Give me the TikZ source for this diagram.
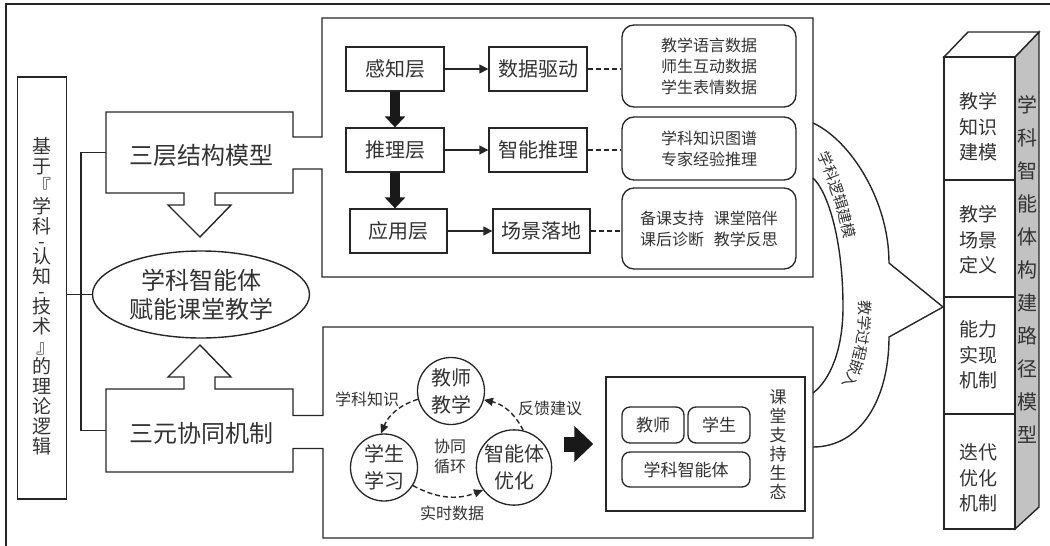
\documentclass[tikz,border=0pt]{standalone}
\usepackage{fontspec}
\setmainfont{Noto Sans CJK SC}
\usetikzlibrary{arrows.meta,shapes.geometric,decorations.text}
\begin{document}
\begin{tikzpicture}[x=1pt,y=1pt]
	\tikzstyle{every node}+=[inner sep=0pt, text=black!80]
	\tikzstyle{box}=[draw=black!85, line width=1.3pt, minimum height=44pt, font=\fontsize{20}{24}\selectfont]
	\tikzstyle{rbox}=[draw=black!85, line width=1.3pt, rounded corners=12pt, minimum width=174pt, align=center, font=\fontsize{16}{21}\selectfont]
	\tikzstyle{sbox}=[draw=black!85, line width=1.3pt, rounded corners=8pt, minimum height=36pt, font=\fontsize{17}{20}\selectfont]
	\tikzstyle{agent}=[draw=black!85, line width=1.3pt, circle, minimum size=67pt, align=center, font=\fontsize{20}{27}\selectfont]
	\tikzstyle{flow}=[black!85, line width=1.4pt, -{Triangle[length=9pt,width=9pt]}]
	\tikzstyle{bigflow}=[black!90, line width=10pt, -{Triangle[length=11pt,width=20pt]}]
	\tikzstyle{link}=[black!85, line width=1.4pt, dash pattern=on 5pt off 3pt]
	\tikzstyle{loopflow}=[black!85, line width=1.4pt, dash pattern=on 5pt off 3pt, -{Triangle[length=9pt,width=8pt]}]
	\tikzstyle{outline}=[black!85, line width=1.4pt]
	\tikzstyle{big}=[font=\fontsize{24}{29}\selectfont, align=center]
	\tikzstyle{col}=[font=\fontsize{19}{25.5}\selectfont, align=center]
	\tikzstyle{lbl}=[font=\fontsize{16}{20}\selectfont, align=center]
	\tikzstyle{arclabel}=[decorate, decoration={text along path, text align=center, raise=-5.5pt}]
	\useasboundingbox (0,0) rectangle (1050,-546);
	% outer frame
	\draw [outline] (6,-560) -- (6,-4) -- (1060,-4);
	% left column
	\node [draw=black!85, line width=1.3pt, minimum width=49pt, minimum height=422pt] (lbox) at (42.2,-288) {};
	\node [font=\fontsize{19}{20}\selectfont, align=center] (lbt) at (42.2,-296) {基\\于\\『\hspace*{0.4em}\\学\\科\\[-5pt]-\\[-5pt]认\\知\\[-5pt]-\\[-5pt]技\\术\\\hspace*{0.4em}』\\的\\理\\论\\逻\\辑};
	\node [ellipse, draw=black!85, line width=1.4pt, minimum width=217pt, minimum height=87pt, big] (ell) at (201,-294.5) {学科智能体\\赋能课堂教学};
	% three-layer box and its panel
	\draw [outline] (106,-112) -- (293,-112) -- (293,-137) -- (322,-137) -- (322,-18) -- (813,-18) -- (813,-277) -- (322,-277) -- (322,-169) -- (293,-169) -- (293,-193) -- (215,-193) -- (215,-205) -- (231,-205) -- (200,-237) -- (168,-205) -- (184,-205) -- (184,-193) -- (106,-193) -- cycle;
	\node [big] (tlm) at (201,-155) {三层结构模型};
	% three-element box and its panel
	\draw [outline] (106,-389) -- (184,-389) -- (184,-377) -- (168,-377) -- (200,-345) -- (231,-377) -- (215,-377) -- (215,-389) -- (293,-389) -- (293,-415.5) -- (323,-415.5) -- (323,-327) -- (813,-327) -- (813,-538) -- (323,-538) -- (323,-448.5) -- (293,-448.5) -- (293,-472) -- (106,-472) -- cycle;
	\node [big] (tem) at (201,-433) {三元协同机制};
	% trunk
	\coordinate (tlw) at (106,-152.5);
	\coordinate (tew) at (106,-430.5);
	\coordinate (tr1) at (81,-152.5);
	\coordinate (tr2) at (81,-430.5);
	\draw [outline] (tlw) -- (tr1) -- (tr2) -- (tew);
	\draw [outline] (lbox.east |- ell.west) -- (ell.west);
	% layers
	\node [box, minimum width=98pt] (per) at (395,-69) {感知层};
	\node [box, minimum width=98pt] (dd) at (538,-69) {数据驱动};
	\node [box, minimum width=98pt] (inf) at (395,-150) {推理层};
	\node [box, minimum width=98pt] (zn) at (538,-150) {智能推理};
	\node [box, minimum width=97pt] (app) at (398.5,-231) {应用层};
	\node [box, minimum width=97pt] (cj) at (541.5,-231) {场景落地};
	\node [rbox, minimum height=82pt] (rb1) at (709,-66) {教学语言数据\\师生互动数据\\学生表情数据};
	\node [rbox, minimum height=63pt] (rb2) at (709,-148.5) {学科知识图谱\\专家经验推理};
	\node [rbox, minimum height=81pt] (rb3) at (709,-228.5) {备课支持\hspace{0.6em}课堂陪伴\\课后诊断\hspace{0.6em}教学反思};
	\draw [flow] (per) -- (dd);
	\draw [flow] (inf) -- (zn);
	\draw [flow] (app) -- (cj);
	\draw [bigflow] (per.south) -- (inf.north);
	\draw [bigflow] (inf.south) -- (inf.south |- app.north);
	\draw [link] (dd.east) -- (dd.east -| rb1.west);
	\draw [link] (zn.east) -- (zn.east -| rb2.west);
	\draw [link] (cj.east) -- (cj.east -| rb3.west);
	% cycle
	\node [agent] (tt) at (451,-391) {教师\\教学};
	\node [agent] (ss) at (384,-467.5) {学生\\学习};
	\node [agent] (ai) at (514,-467.5) {智能体\\优化};
	\node [lbl] (cyc) at (450,-456) {协同\\循环};
	\draw [loopflow] (tt.194) to [bend right=25] (ss.95);
	\draw [loopflow] (ai.76) to [bend right=25] (tt.345);
	\draw [loopflow] (ss.328) to [bend right=25] (ai.216);
	\node [lbl] (lk) at (367,-399) {学科知识};
	\node [lbl] (lf) at (550,-408) {反馈建议};
	\node [lbl] (ls) at (452,-513) {实时数据};
	% ecosystem
	\node [draw=black!85, line width=1.4pt, minimum width=199pt, minimum height=134pt] (eco) at (705.5,-444) {};
	\node [sbox, minimum width=62pt] (et) at (653,-425) {教师};
	\node [sbox, minimum width=62pt] (es) at (719,-425) {学生};
	\node [sbox, minimum width=128pt, minimum height=35pt] (ea) at (686,-469.5) {学科智能体};
	\node [font=\fontsize{17}{19}\selectfont, align=center] (ecot) at (778,-445) {课\\堂\\支\\持\\生\\态};
	\draw [black!90, line width=15pt, -{Triangle[length=19pt,width=35pt]}] ([xshift=12pt]ai.east |- eco.west) -- ([xshift=-12pt]eco.west);
	% curved arrow
	\draw [outline] (813,-123) .. controls (850,-140) and (889,-200) .. (889,-263) -- (943,-307) -- (889,-337) .. controls (889,-400) and (860,-447) .. (813,-447);
	\draw [outline] (813,-393) .. controls (830,-380) and (843,-350) .. (843,-307) .. controls (843,-240) and (828,-192) .. (813,-178);
	\path [arclabel, decoration={text={|\color{black!80}\fontsize{15}{18}\selectfont|学科逻辑建模}}] (817,-142) .. controls (830,-168) and (845,-205) .. (852,-250);
	\path [arclabel, decoration={text={|\color{black!80}\fontsize{15}{18}\selectfont|教学过程嵌入}}] (865,-297) .. controls (866,-330) and (862,-362) .. (845,-391);
	% column
	\draw [outline, fill=black!24] (1015,-57) -- (1039,-32) -- (1039,-507) -- (1015,-529) -- cycle;
	\draw [outline, fill=white] (944,-57) -- (968,-32) -- (1039,-32) -- (1015,-57) -- cycle;
	\draw [outline, fill=white] (944,-57) rectangle (1015,-529);
	\draw [outline] (944,-180) -- (1015,-180);
	\draw [outline] (944,-297) -- (1015,-297);
	\draw [outline] (944,-414) -- (1015,-414);
	\node [col] (c1) at (978,-127) {教学\\知识\\建模};
	\node [col] (c2) at (978,-240) {教学\\场景\\定义};
	\node [col] (c3) at (978,-355) {能力\\实现\\机制};
	\node [col] (c4) at (978,-478) {迭代\\优化\\机制};
	\node [font=\fontsize{20}{33}\selectfont, align=center] (side) at (1027,-269) {学\\科\\智\\能\\体\\构\\建\\路\\径\\模\\型};
\end{tikzpicture}
\end{document}
